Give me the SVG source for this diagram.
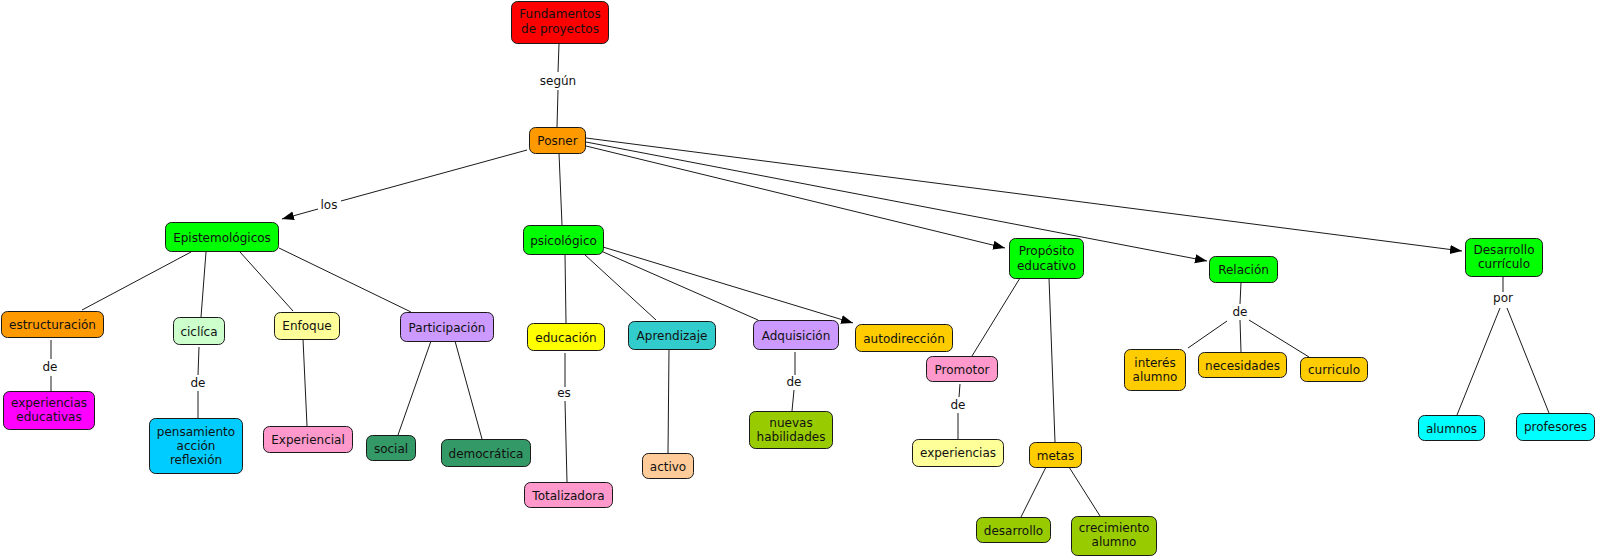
<svg xmlns="http://www.w3.org/2000/svg" width="1597" height="558" viewBox="0 0 1597 558">
<defs>
<style>
.n rect{stroke:#1a1a1a;stroke-width:1;}
.n text{font-family:"DejaVu Sans",Verdana,sans-serif;font-size:12px;fill:#111;text-anchor:middle;}
.lbl{font-family:"DejaVu Sans",Verdana,sans-serif;font-size:12px;fill:#111;text-anchor:middle;}
#connectors line{stroke:#1a1a1a;stroke-width:1;fill:none;}
</style>
<marker id="arr" markerUnits="userSpaceOnUse" markerWidth="13" markerHeight="10" refX="12" refY="4.5" orient="auto">
<path d="M0,0 L12,4.5 L0,9 z" fill="#000"/>
</marker>
</defs>
<rect width="1597" height="558" fill="#fff"/>
<g id="connectors">
<line x1="559" y1="44" x2="558" y2="72"/>
<line x1="558" y1="90" x2="557" y2="127"/>
<line x1="527" y1="150" x2="341" y2="201"/>
<line x1="318" y1="209" x2="282" y2="219" marker-end="url(#arr)"/>
<line x1="559" y1="153" x2="562" y2="225"/>
<line x1="586" y1="146" x2="1005" y2="248" marker-end="url(#arr)"/>
<line x1="586" y1="142" x2="1207" y2="261" marker-end="url(#arr)"/>
<line x1="586" y1="138" x2="1462" y2="251" marker-end="url(#arr)"/>
<line x1="191" y1="252" x2="82" y2="310"/>
<line x1="206" y1="252" x2="201" y2="317"/>
<line x1="240" y1="252" x2="293" y2="311"/>
<line x1="279" y1="248" x2="411" y2="312"/>
<line x1="51" y1="340" x2="51" y2="359"/>
<line x1="51" y1="376" x2="51" y2="391"/>
<line x1="199" y1="347" x2="198" y2="375"/>
<line x1="198" y1="391" x2="198" y2="418"/>
<line x1="303" y1="339" x2="307" y2="426"/>
<line x1="431" y1="341" x2="398" y2="435"/>
<line x1="455" y1="341" x2="482" y2="439"/>
<line x1="565" y1="254" x2="566" y2="323"/>
<line x1="565" y1="353" x2="565" y2="387"/>
<line x1="565" y1="401" x2="567" y2="482"/>
<line x1="584" y1="254" x2="656" y2="320"/>
<line x1="669" y1="349" x2="668" y2="453"/>
<line x1="601" y1="251" x2="758" y2="320"/>
<line x1="795" y1="352" x2="795" y2="375"/>
<line x1="794" y1="390" x2="792" y2="411"/>
<line x1="603" y1="247" x2="853" y2="323" marker-end="url(#arr)"/>
<line x1="1020" y1="278" x2="972" y2="356"/>
<line x1="960" y1="384" x2="959" y2="397"/>
<line x1="958" y1="413" x2="958" y2="439"/>
<line x1="1049" y1="278" x2="1055" y2="442"/>
<line x1="1046" y1="467" x2="1021" y2="517"/>
<line x1="1069" y1="467" x2="1100" y2="516"/>
<line x1="1241" y1="282" x2="1240" y2="304"/>
<line x1="1227" y1="321" x2="1188" y2="348"/>
<line x1="1240" y1="320" x2="1241" y2="352"/>
<line x1="1249" y1="320" x2="1309" y2="357"/>
<line x1="1503" y1="276" x2="1503" y2="292"/>
<line x1="1500" y1="308" x2="1457" y2="415"/>
<line x1="1507" y1="308" x2="1549" y2="413"/>
<text class="lbl" x="558" y="85">según</text>
<text class="lbl" x="329" y="209">los</text>
<text class="lbl" x="50" y="371">de</text>
<text class="lbl" x="198" y="387">de</text>
<text class="lbl" x="564" y="397">es</text>
<text class="lbl" x="794" y="386">de</text>
<text class="lbl" x="958" y="409">de</text>
<text class="lbl" x="1240" y="316">de</text>
<text class="lbl" x="1503" y="302">por</text>
</g>
<g id="n-fundamentos" class="n"><rect x="511.5" y="1.5" width="97" height="42" rx="6" fill="#FF0000"/><text x="560" y="18">Fundamentos</text><text x="560" y="33">de proyectos</text></g>
<g id="n-posner" class="n"><rect x="529.5" y="127.5" width="56" height="26" rx="6" fill="#FF9900"/><text x="557.5" y="145">Posner</text></g>
<g id="n-epistemologicos" class="n"><rect x="165.5" y="222.5" width="113" height="29" rx="6" fill="#00FF00"/><text x="222" y="241.5">Epistemológicos</text></g>
<g id="n-psicologico" class="n"><rect x="523.5" y="225.5" width="80" height="29" rx="6" fill="#00FF00"/><text x="563.5" y="244.5">psicológico</text></g>
<g id="n-proposito" class="n"><rect x="1009.5" y="238.5" width="74" height="40" rx="6" fill="#00FF00"/><text x="1046.5" y="255">Propósito</text><text x="1046.5" y="270">educativo</text></g>
<g id="n-relacion" class="n"><rect x="1209.5" y="256.5" width="68" height="26" rx="6" fill="#00FF00"/><text x="1243.5" y="274">Relación</text></g>
<g id="n-desarrollo-curriculo" class="n"><rect x="1465.5" y="238.5" width="77" height="38" rx="6" fill="#00FF00"/><text x="1504" y="254">Desarrollo</text><text x="1504" y="268">currículo</text></g>
<g id="n-estructuracion" class="n"><rect x="1.5" y="311.5" width="102" height="26" rx="6" fill="#FF9900"/><text x="52.5" y="329">estructuración</text></g>
<g id="n-experiencias-educativas" class="n"><rect x="3.5" y="391.5" width="91" height="38" rx="6" fill="#FF00FF"/><text x="49" y="407">experiencias</text><text x="49" y="421">educativas</text></g>
<g id="n-ciclica" class="n"><rect x="173.5" y="317.5" width="51" height="27" rx="6" fill="#CCFFCC"/><text x="199" y="335.5">ciclíca</text></g>
<g id="n-pensamiento" class="n"><rect x="149.5" y="418.5" width="93" height="55" rx="6" fill="#00CCFF"/><text x="196" y="436">pensamiento</text><text x="196" y="450">acción</text><text x="196" y="464">reflexión</text></g>
<g id="n-enfoque" class="n"><rect x="274.5" y="312.5" width="65" height="27" rx="6" fill="#FFFF99"/><text x="307" y="330">Enfoque</text></g>
<g id="n-experiencial" class="n"><rect x="263.5" y="426.5" width="89" height="26" rx="6" fill="#FF99CC"/><text x="308" y="444">Experiencial</text></g>
<g id="n-participacion" class="n"><rect x="400.5" y="312.5" width="93" height="29" rx="6" fill="#CC99FF"/><text x="447" y="331.5">Participación</text></g>
<g id="n-social" class="n"><rect x="366.5" y="435.5" width="49" height="25" rx="6" fill="#339966"/><text x="391" y="452.5">social</text></g>
<g id="n-democratica" class="n"><rect x="441.5" y="439.5" width="89" height="27" rx="6" fill="#339966"/><text x="486" y="457.5">democrática</text></g>
<g id="n-educacion" class="n"><rect x="527.5" y="323.5" width="77" height="27" rx="6" fill="#FFFF00"/><text x="566" y="341.5">educación</text></g>
<g id="n-totalizadora" class="n"><rect x="524.5" y="482.5" width="88" height="25" rx="6" fill="#FF99CC"/><text x="568.5" y="499.5">Totalizadora</text></g>
<g id="n-aprendizaje" class="n"><rect x="628.5" y="321.5" width="87" height="28" rx="6" fill="#33CCCC"/><text x="672" y="340">Aprendizaje</text></g>
<g id="n-activo" class="n"><rect x="642.5" y="453.5" width="51" height="25" rx="6" fill="#FFCC99"/><text x="668" y="470.5">activo</text></g>
<g id="n-adquisicion" class="n"><rect x="753.5" y="320.5" width="85" height="29" rx="6" fill="#CC99FF"/><text x="796" y="339.5">Adquisición</text></g>
<g id="n-nuevas-habilidades" class="n"><rect x="749.5" y="411.5" width="83" height="37" rx="6" fill="#99CC00"/><text x="791" y="427">nuevas</text><text x="791" y="441">habilidades</text></g>
<g id="n-autodireccion" class="n"><rect x="855.5" y="324.5" width="97" height="27" rx="6" fill="#FFCC00"/><text x="904" y="342.5">autodirección</text></g>
<g id="n-promotor" class="n"><rect x="926.5" y="356.5" width="71" height="25" rx="6" fill="#FF99CC"/><text x="962" y="373.5">Promotor</text></g>
<g id="n-experiencias" class="n"><rect x="912.5" y="439.5" width="91" height="27" rx="6" fill="#FFFF99"/><text x="958" y="457">experiencias</text></g>
<g id="n-metas" class="n"><rect x="1029.5" y="442.5" width="52" height="25" rx="6" fill="#FFCC00"/><text x="1055.5" y="459.5">metas</text></g>
<g id="n-desarrollo" class="n"><rect x="976.5" y="517.5" width="74" height="25" rx="6" fill="#99CC00"/><text x="1013.5" y="534.5">desarrollo</text></g>
<g id="n-crecimiento-alumno" class="n"><rect x="1071.5" y="516.5" width="85" height="39" rx="6" fill="#99CC00"/><text x="1114" y="532">crecimiento</text><text x="1114" y="546">alumno</text></g>
<g id="n-interes-alumno" class="n"><rect x="1124.5" y="349.5" width="61" height="41" rx="6" fill="#FFCC00"/><text x="1155" y="367">interés</text><text x="1155" y="381">alumno</text></g>
<g id="n-necesidades" class="n"><rect x="1198.5" y="352.5" width="88" height="25" rx="6" fill="#FFCC00"/><text x="1242.5" y="369.5">necesidades</text></g>
<g id="n-curriculo" class="n"><rect x="1300.5" y="357.5" width="67" height="24" rx="6" fill="#FFCC00"/><text x="1334" y="374">curriculo</text></g>
<g id="n-alumnos" class="n"><rect x="1418.5" y="415.5" width="66" height="25" rx="6" fill="#00FFFF"/><text x="1451.5" y="432.5">alumnos</text></g>
<g id="n-profesores" class="n"><rect x="1516.5" y="413.5" width="78" height="27" rx="6" fill="#00FFFF"/><text x="1555.5" y="431">profesores</text></g>
</svg>
